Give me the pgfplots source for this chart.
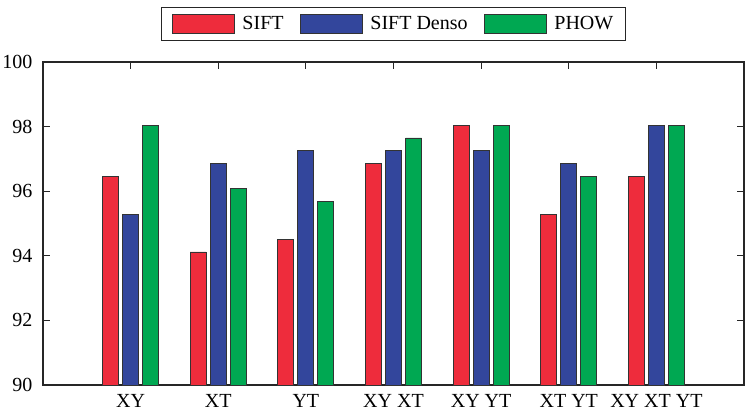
\documentclass[border=0pt]{standalone}
\usepackage{fontspec}
\setmainfont{Liberation Serif}
\usepackage{pgfplots}
\pgfplotsset{compat=1.18}
\definecolor{cred}{RGB}{238,44,60}
\definecolor{cblue}{RGB}{51,70,156}
\definecolor{cgreen}{RGB}{0,168,82}
\begin{document}
\begin{tikzpicture}
\useasboundingbox (-43pt,-31pt) rectangle (708pt,385pt);
\begin{axis}[
  at={(0pt,0pt)}, anchor=south west,
  scale only axis, width=701pt, height=323pt,
  xmin=0, xmax=8, ymin=90, ymax=100,
  ybar=4pt, bar width=16pt,
  xtick={1,2,3,4,5,6,7},
  xticklabels={XY, XT, YT, XY XT, XY YT, XT YT, XY XT YT},
  ytick={90,92,94,96,98,100},
  xtick pos=right, xticklabel pos=left,
  ytick pos=both, yticklabel pos=left,
  tick align=inside, major tick length=7pt,
  axis line style={line width=1.1pt, black!85},
  tick style={line width=1pt, black!85},
  /pgf/number format/assume math mode=true,
  tick label style={font=\fontsize{20}{24}\selectfont},
  yticklabel style={xshift=-7pt},
  xticklabel style={yshift=-6pt},
  legend columns=3,
  legend style={at={(0.5,1)}, anchor=south, yshift=21pt,
    font=\fontsize{20}{24}\selectfont, draw=black!85, line width=1pt,
    inner xsep=10pt, inner ysep=6.5pt,
    /tikz/every odd column/.append style={column sep=6pt},
    /tikz/every even column/.append style={column sep=14pt}},
  legend image code/.code={\draw[#1, line width=0.8pt] (0pt,-9.5pt) rectangle (62pt,9.5pt);},
]
\addplot[fill=cred, draw=black!80, line width=0.8pt] coordinates {(1,96.47) (2,94.12) (3,94.51) (4,96.86) (5,98.04) (6,95.29) (7,96.47)};
\addplot[fill=cblue, draw=black!80, line width=0.8pt] coordinates {(1,95.29) (2,96.86) (3,97.25) (4,97.25) (5,97.25) (6,96.86) (7,98.04)};
\addplot[fill=cgreen, draw=black!80, line width=0.8pt] coordinates {(1,98.04) (2,96.08) (3,95.69) (4,97.65) (5,98.04) (6,96.47) (7,98.04)};
\legend{SIFT, SIFT Denso, PHOW}
\end{axis}
\end{tikzpicture}
\end{document}
